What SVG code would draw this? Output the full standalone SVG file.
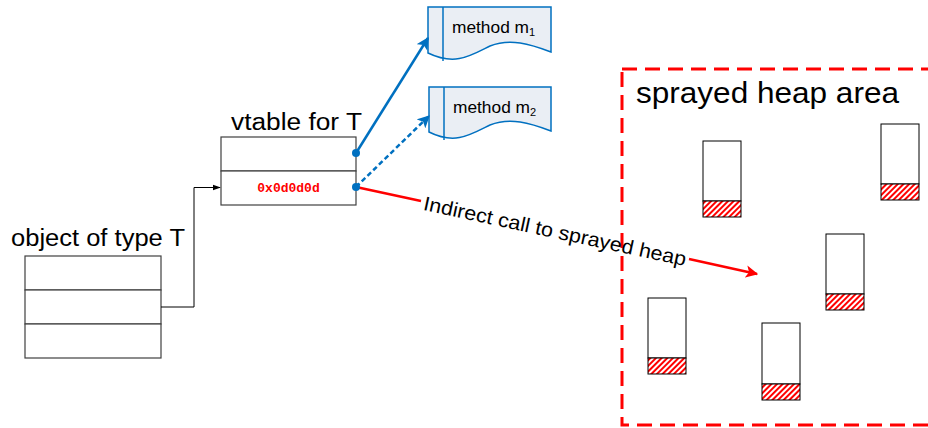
<svg xmlns="http://www.w3.org/2000/svg" width="928" height="428" viewBox="0 0 928 428">
  <defs>
    <pattern id="hatch" patternUnits="userSpaceOnUse" width="4" height="4" patternTransform="rotate(45)">
      <rect width="4" height="4" fill="#ffffff"/>
      <rect width="2" height="4" fill="#ff0000"/>
    </pattern>
    <marker id="arrBlue" viewBox="0 0 10 10" refX="9" refY="5" markerWidth="5" markerHeight="5" orient="auto">
      <path d="M0,0 L10,5 L0,10 L2.5,5 z" fill="#0070c0"/>
    </marker>
    <marker id="arrRed" viewBox="0 0 10 10" refX="9" refY="5" markerWidth="5" markerHeight="5" orient="auto">
      <path d="M0,0 L10,5 L0,10 L2.5,5 z" fill="#ff0000"/>
    </marker>
    <marker id="arrBlack" viewBox="0 0 10 10" refX="9" refY="5" markerWidth="8" markerHeight="8" orient="auto">
      <path d="M0,1.5 L10,5 L0,8.5 z" fill="#000000"/>
    </marker>
  </defs>
  <style>
    .cell { fill: #ffffff; stroke: #404040; stroke-width: 1.2; }
    .lbl { font-family: "Liberation Sans", "Open Sans", sans-serif; fill: #000000; }
    .doc { fill: #eaeef4; stroke: #0070c0; stroke-width: 1.5; }
    .blk { fill: #ffffff; stroke: #000000; stroke-width: 1; }
    .hat { fill: url(#hatch); stroke: #000000; stroke-width: 1; }
  </style>
  <rect width="928" height="428" fill="#ffffff"/>

  <!-- sprayed heap region -->
  <g id="heap-area">
    <rect x="622" y="69" width="320" height="356" fill="none" stroke="#ff0000" stroke-width="3" stroke-dasharray="15 8"/>
    <text class="lbl" x="636" y="103" font-size="30" textLength="263" lengthAdjust="spacingAndGlyphs">sprayed heap area</text>
  </g>

  <!-- heap blocks, each with a hatched slot at the bottom -->
  <g id="block-1"><rect class="blk" x="703" y="141" width="38" height="60"/><rect class="hat" x="703" y="201" width="38" height="16"/></g>
  <g id="block-2"><rect class="blk" x="881" y="124" width="38" height="60"/><rect class="hat" x="881" y="184" width="38" height="16"/></g>
  <g id="block-3"><rect class="blk" x="826" y="234" width="38" height="60"/><rect class="hat" x="826" y="294" width="38" height="16"/></g>
  <g id="block-4"><rect class="blk" x="648" y="298" width="38" height="60"/><rect class="hat" x="648" y="358" width="38" height="16"/></g>
  <g id="block-5"><rect class="blk" x="762" y="323" width="38" height="61"/><rect class="hat" x="762" y="384" width="38" height="16"/></g>

  <!-- object of type T -->
  <g id="object">
    <text class="lbl" x="11" y="246" font-size="23" textLength="174" lengthAdjust="spacingAndGlyphs">object of type T</text>
    <rect class="cell" x="25" y="256" width="136" height="34"/>
    <rect class="cell" x="25" y="290" width="136" height="34"/>
    <rect class="cell" x="25" y="324" width="136" height="34"/>
  </g>

  <!-- vtable for T -->
  <g id="vtable">
    <text class="lbl" x="231" y="130" font-size="23" textLength="131" lengthAdjust="spacingAndGlyphs">vtable for T</text>
    <rect class="cell" x="221" y="137" width="135" height="34"/>
    <rect class="cell" x="221" y="171" width="135" height="34"/>
    <text x="288.5" y="192" font-family="'Liberation Mono', 'Courier New', monospace" font-weight="bold" font-size="13" fill="#ff0000" text-anchor="middle">0x0d0d0d</text>
  </g>

  <!-- method documents -->
  <g id="method-m1">
    <path class="doc" d="M428,7 H551 V52 C530,44 510,38 490,46 C470,56 455,66 428,53 Z"/>
    <line x1="443" y1="7" x2="443" y2="61" stroke="#0070c0" stroke-width="1.5"/>
    <text class="lbl" x="452" y="33" font-size="17"><tspan textLength="77" lengthAdjust="spacingAndGlyphs">method m</tspan><tspan font-size="11" dy="3">1</tspan></text>
  </g>
  <g id="method-m2">
    <path class="doc" d="M429,87 H551 V131 C530,123 510,117 490,125 C470,135 455,145 429,132 Z"/>
    <line x1="444" y1="87" x2="444" y2="140" stroke="#0070c0" stroke-width="1.5"/>
    <text class="lbl" x="453" y="113" font-size="17"><tspan textLength="77" lengthAdjust="spacingAndGlyphs">method m</tspan><tspan font-size="11" dy="3">2</tspan></text>
  </g>

  <!-- connectors -->
  <g id="connectors">
    <polyline points="161,307 194,307 194,187.5 220,187.5" fill="none" stroke="#000000" stroke-width="1" marker-end="url(#arrBlack)"/>
    <line x1="356" y1="153" x2="428" y2="38" stroke="#0070c0" stroke-width="2.5" marker-end="url(#arrBlue)"/>
    <line x1="356" y1="187" x2="429" y2="116" stroke="#0070c0" stroke-width="2.5" stroke-dasharray="5 3" marker-end="url(#arrBlue)"/>
    <line x1="356" y1="187" x2="421" y2="201" stroke="#ff0000" stroke-width="2.5"/>
    <line x1="689" y1="259" x2="757" y2="274" stroke="#ff0000" stroke-width="2.5" marker-end="url(#arrRed)"/>
    <circle cx="356" cy="153" r="4" fill="#0070c0"/>
    <circle cx="356" cy="187" r="4" fill="#0070c0"/>
    <text class="lbl" x="555" y="231" font-size="20" text-anchor="middle" dominant-baseline="central" textLength="268" lengthAdjust="spacingAndGlyphs" transform="rotate(12.1 555 231)">Indirect call to sprayed heap</text>
  </g>
</svg>
